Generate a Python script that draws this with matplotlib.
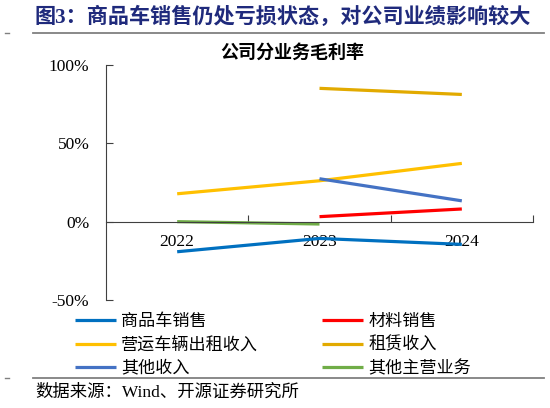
import numpy as np
import matplotlib
matplotlib.use("Agg")
import matplotlib.pyplot as plt
from matplotlib.lines import Line2D
from matplotlib.ticker import FuncFormatter

plt.rcParams["font.family"] = ["Liberation Serif", "Noto Sans CJK SC"]

# -----------------------------
# Data (gross margin, %)
# -----------------------------
years = ["2022", "2023", "2024"]
commodity_car = [-19.2, -10.7, -14.5]        # 商品车销售
materials = [np.nan, 3.2, 8.1]               # 材料销售
vehicle_rental = [17.8, 26.1, 37.2]          # 营运车辆出租收入
leasing = [np.nan, 85.1, 81.2]               # 租赁收入
other_income = [np.nan, 27.4, 13.3]          # 其他收入
other_main = [0.0, -1.5, np.nan]             # 其他主营业务

series_names = ["商品车销售", "材料销售", "营运车辆出租收入", "租赁收入", "其他收入", "其他主营业务"]
series_values = [commodity_car, materials, vehicle_rental, leasing, other_income, other_main]
series_colors = ["#0070C0", "#FF0000", "#FFC000", "#E2AA00", "#4472C4", "#70AD47"]

yticks = [-50, 0, 50, 100]

# -----------------------------
# Figure
# -----------------------------
fig = plt.figure(figsize=(5.5, 4.08), dpi=100)
ax = fig.add_axes([106 / 550, 1 - 300 / 408, 427 / 550, 235 / 408])

x = np.arange(len(years))
handles = []
for name, vals, col in zip(series_names, series_values, series_colors):
    ln, = ax.plot(x, vals, color=col, lw=2.3, solid_capstyle="butt", label=name)
    handles.append(ln)

ax.set_xlim(-0.5, 2.5)
ax.set_ylim(-50, 100)
ax.set_yticks(yticks)
ax.yaxis.set_major_formatter(FuncFormatter(lambda v, p: f"{int(v)}%"))

# category axis: labels at centres, tick marks at boundaries
ax.set_xticks(x)
ax.set_xticklabels(years)
ax.set_xticks([0.5, 1.5, 2.5], minor=True)
ax.tick_params(axis="x", which="major", length=0, pad=9, labelsize=12.5)
ax.tick_params(axis="x", which="minor", direction="in", length=5, width=0.8, color="#404040")
ax.tick_params(axis="y", direction="in", length=5, width=0.8, color="#404040", pad=12, labelsize=12.5)

for s in ["top", "right"]:
    ax.spines[s].set_visible(False)
ax.spines["bottom"].set_position(("data", 0))
ax.spines["bottom"].set_color("#404040")
ax.spines["left"].set_color("#404040")
ax.spines["bottom"].set_linewidth(0.8)
ax.spines["left"].set_linewidth(0.8)

# chart title
fig.text(292 / 550, 1 - 53 / 408, "公司分业务毛利率", ha="center", va="center",
         fontsize=13, fontweight="bold")

# legend, filled row by row
order = [0, 2, 4, 1, 3, 5]
fig.legend([handles[i] for i in order], [series_names[i] for i in order],
           ncol=2, loc="upper left", bbox_to_anchor=(75 / 550, 1 - 314 / 408),
           frameon=False, fontsize=12.3, handlelength=2.4, handletextpad=0.3,
           columnspacing=3.75, labelspacing=0.42, borderpad=0, borderaxespad=0)

# header / footer
fig.text(35 / 550, 1 - 17 / 408, "图3：商品车销售仍处亏损状态，对公司业绩影响较大",
         ha="left", va="center", fontsize=15.2, fontweight="bold", color="#1F2A7C")
fig.add_artist(Line2D([33 / 550, 544 / 550], [1 - 33 / 408] * 2, color="#808080", lw=1.3))
fig.add_artist(Line2D([5 / 550, 9 / 550], [1 - 33 / 408] * 2, color="#808080", lw=1.0))
fig.add_artist(Line2D([33 / 550, 544 / 550], [1 - 378 / 408] * 2, color="#808080", lw=1.3))
fig.add_artist(Line2D([5 / 550, 9 / 550], [1 - 378 / 408] * 2, color="#808080", lw=1.0))
fig.text(35 / 550, 1 - 393 / 408, "数据来源：Wind、开源证券研究所", ha="left", va="center",
         fontsize=12.5)

fig.savefig("out.png", dpi=100)
